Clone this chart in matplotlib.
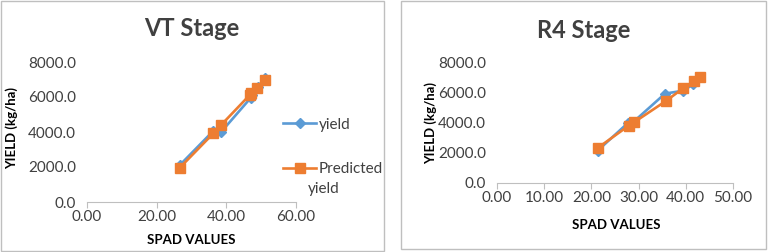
import matplotlib.pyplot as plt
from matplotlib.patches import Rectangle

# VT stage data (SPAD, yield in kg/ha)
vt_spad = [26.7, 36.2, 38.5, 47.0, 47.3, 49.0, 51.0]
vt_yield = [2120, 4050, 4000, 5950, 6100, 6550, 7080]
vt_spad_pred = [26.7, 36.3, 38.6, 46.8, 47.2, 48.9, 51.0]
vt_pred = [1970, 3930, 4420, 6130, 6200, 6530, 6950]

# R4 stage data
r4_spad = [21.3, 27.8, 29.0, 35.6, 39.4, 41.6, 43.0]
r4_yield = [2150, 4020, 4100, 5960, 6150, 6580, 7050]
r4_spad_pred = [21.4, 27.9, 29.1, 35.8, 39.5, 41.7, 43.1]
r4_pred = [2350, 3820, 4060, 5470, 6330, 6800, 7090]

y_ticks = [0, 2000, 4000, 6000, 8000]

BLUE = '#5B9BD5'
ORANGE = '#ED7D31'
TXT = '#404040'

plt.rcParams['font.family'] = ['Lato', 'DejaVu Sans']

W, H = 768, 252
fig = plt.figure(figsize=(W / 100, H / 100), dpi=100)


def px(x0, y0, x1, y1):
    # pixel box (top-left origin) -> figure fraction rect
    return [x0 / W, 1 - y1 / H, (x1 - x0) / W, (y1 - y0) / H]


# panel borders
for (x0, y0, x1, y1) in [(0.5, 1, 384, 251), (401, 0.5, 766, 249)]:
    fig.patches.append(Rectangle((x0 / W, 1 - y1 / H), (x1 - x0) / W, (y1 - y0) / H,
                                 transform=fig.transFigure, fill=False,
                                 edgecolor='#BFBFBF', linewidth=1.0))


def style_axes(ax, xmax, xstep):
    ax.set_xlim(0, xmax)
    ax.set_ylim(0, 8000)
    ax.set_xticks(range(0, xmax + 1, xstep))
    ax.set_xticklabels([f'{v:.2f}' for v in range(0, xmax + 1, xstep)])
    ax.set_yticks(y_ticks)
    ax.set_yticklabels([f'{v:.1f}' for v in y_ticks])
    for s in ['top', 'right', 'left']:
        ax.spines[s].set_visible(False)
    ax.spines['bottom'].set_color('#BFBFBF')
    ax.spines['bottom'].set_linewidth(0.8)
    ax.tick_params(axis='x', length=4, width=0.8, color='#BFBFBF', labelsize=11,
                   labelcolor=TXT, pad=2)
    ax.tick_params(axis='y', length=0, labelsize=11, labelcolor=TXT, pad=8)
    ax.patch.set_alpha(0)


# left panel: VT stage
ax1 = fig.add_axes(px(87, 62, 296, 202))
style_axes(ax1, 60, 20)
ax1.plot(vt_spad, vt_yield, color=BLUE, lw=1.9, marker='D', ms=5, label='yield', zorder=3)
ax1.plot(vt_spad_pred, vt_pred, color=ORANGE, lw=1.9, marker='s', ms=6.5,
         label='Predicted', zorder=4)
ax1.legend(loc='upper left', bbox_to_anchor=(272 / W, 1 - 107 / H), bbox_transform=fig.transFigure,
           frameon=False, fontsize=11, labelspacing=2.0, handlelength=2.2, handletextpad=0.15,
           labelcolor=TXT, borderpad=0.2)
fig.text(308 / W, 1 - 189 / H, 'yield', ha='left', va='center', fontsize=11, color=TXT)

fig.text(192 / W, 1 - 29 / H, 'VT Stage', ha='center', va='center', fontsize=17,
         fontweight='bold', color=TXT)
fig.text(12 / W, 1 - 128 / H, 'YIELD (kg/ha)', ha='center', va='center', rotation=90,
         fontsize=9.5, fontweight='bold', color='black')
fig.text(191 / W, 1 - 240 / H, 'SPAD VALUES', ha='center', va='center',
         fontsize=9.5, fontweight='bold', color='black')

# right panel: R4 stage
ax2 = fig.add_axes(px(497, 63, 733, 183))
style_axes(ax2, 50, 10)
ax2.plot(r4_spad, r4_yield, color=BLUE, lw=1.9, marker='D', ms=5, zorder=3)
ax2.plot(r4_spad_pred, r4_pred, color=ORANGE, lw=1.9, marker='s', ms=6.5, zorder=4)

fig.text(584 / W, 1 - 30 / H, 'R4 Stage', ha='center', va='center', fontsize=17,
         fontweight='bold', color=TXT)
fig.text(431 / W, 1 - 123 / H, 'YIELD (kg/ha)', ha='center', va='center', rotation=90,
         fontsize=9.5, fontweight='bold', color='black')
fig.text(616 / W, 1 - 225 / H, 'SPAD VALUES', ha='center', va='center',
         fontsize=9.5, fontweight='bold', color='black')

fig.savefig('out.png', dpi=100)
